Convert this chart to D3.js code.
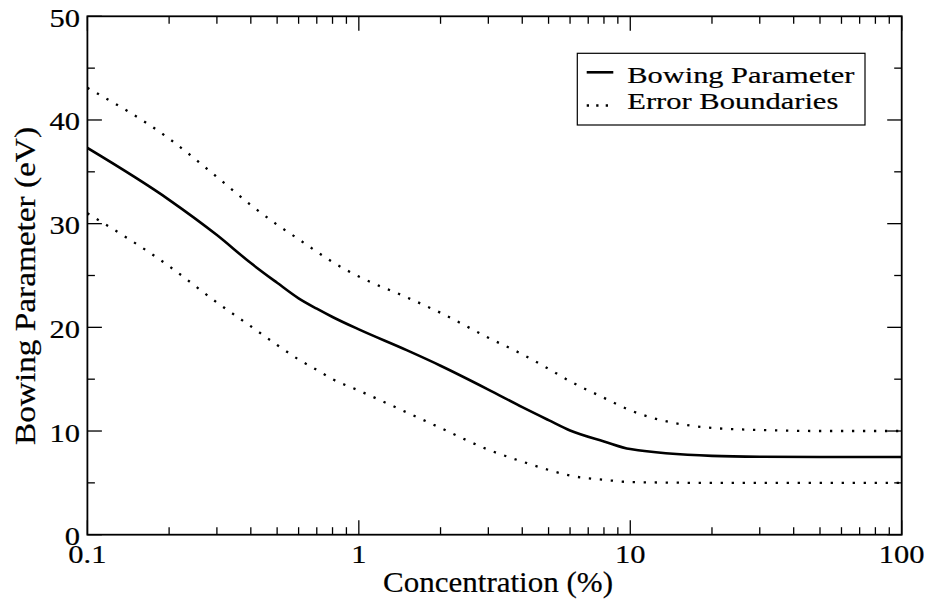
<!DOCTYPE html>
<html>
<head>
<meta charset="utf-8">
<script src="https://cdn.jsdelivr.net/npm/d3@7"></script>
<style>
  html, body { margin: 0; padding: 0; background: #fff; }
  svg { display: block; }
  text { font-family: "Liberation Serif", "Times New Roman", Tinos, serif; fill: #000; stroke: #000; stroke-width: 0.2px; }
</style>
</head>
<body>
<svg id="chart" width="932" height="603"></svg>
<script>
// ---- data ----
const concentration = [0.1, 0.2, 0.3, 0.4, 0.5, 0.6, 0.7, 0.8, 1, 1.5, 2, 3, 4, 5, 6, 8, 10, 20, 30, 50, 100];
const bowing        = [37.3, 32.3, 28.9, 26.2, 24.3, 22.8, 21.8, 21.0, 19.8, 17.8, 16.3, 14.0, 12.3, 11.05, 10.05, 9.0, 8.26, 7.6, 7.52, 7.5, 7.5];
const upperBound    = [43.1, 38.2, 34.5, 31.8, 29.9, 28.5, 27.3, 26.3, 24.9, 22.9, 21.4, 19.0, 17.4, 16.0, 14.8, 13.2, 12.0, 10.3, 10.1, 10.0, 10.0];
const lowerBound    = [31.0, 25.9, 22.4, 20.1, 18.3, 16.9, 15.9, 15.0, 13.9, 11.8, 10.3, 8.2, 7.05, 6.25, 5.7, 5.3, 5.08, 5.0, 5.0, 5.0, 5.0];
const xMajorTicks = [0.1, 1, 10, 100];
const xTickLabels = ["0.1", "1", "10", "100"];
const yMajorTicks = [0, 10, 20, 30, 40, 50];
const yTickLabels = ["0", "10", "20", "30", "40", "50"];
const yMinorTicks = [5, 15, 25, 35, 45];
const legendLabels = ["Bowing Parameter", "Error Boundaries"];
const xTitle = "Concentration (%)";
const yTitle = "Bowing Parameter (eV)";

// ---- layout ----
const L = 87.4, R = 901.7, T = 16.3, B = 534.7;
const svg = d3.select("#chart");
const x = d3.scaleLog().domain([0.1, 100]).range([L, R]);
const y = d3.scaleLinear().domain([0, 50]).range([B, T]);

const xMinorTicks = [];
[0.1, 1, 10].forEach(d => { for (let k = 2; k <= 9; k++) xMinorTicks.push(+(d * k).toPrecision(3)); });

const MAJ = 14.5, MIN = 7.5;
const tickG = svg.append("g").attr("stroke", "#000").attr("stroke-width", 1.3);
function vt(v, len) {
  tickG.append("line").attr("x1", x(v)).attr("x2", x(v)).attr("y1", B).attr("y2", B - len);
  tickG.append("line").attr("x1", x(v)).attr("x2", x(v)).attr("y1", T).attr("y2", T + len);
}
function ht(v, len) {
  tickG.append("line").attr("y1", y(v)).attr("y2", y(v)).attr("x1", L).attr("x2", L + len);
  tickG.append("line").attr("y1", y(v)).attr("y2", y(v)).attr("x1", R).attr("x2", R - len);
}
xMajorTicks.forEach(v => vt(v, MAJ));
xMinorTicks.forEach(v => vt(v, MIN));
yMajorTicks.forEach(v => ht(v, MAJ));
yMinorTicks.forEach(v => ht(v, MIN));

// ---- lines ----
const line = d3.line().x(d => x(d[0])).y(d => y(d[1])).curve(d3.curveMonotoneX);
const zip = arr => concentration.map((c, i) => [c, arr[i]]);
svg.append("clipPath").attr("id", "clip").append("rect")
  .attr("x", L).attr("y", T).attr("width", R - L).attr("height", B - T);
const plot = svg.append("g").attr("clip-path", "url(#clip)");
[upperBound, lowerBound].forEach(arr => {
  plot.append("path").attr("d", line(zip(arr))).attr("fill", "none")
    .attr("stroke", "#000").attr("stroke-width", 2.3).attr("stroke-dasharray", "2.3,8.7");
});
plot.append("path").attr("d", line(zip(bowing))).attr("fill", "none")
  .attr("stroke", "#000").attr("stroke-width", 2.6).attr("stroke-linejoin", "round");

// ---- frame ----
svg.append("rect").attr("x", L).attr("y", T).attr("width", R - L).attr("height", B - T)
  .attr("fill", "none").attr("stroke", "#000").attr("stroke-width", 1.8);

// ---- tick labels ----
const SX = 1.22;
function label(txt, px, py, anchor, size, sx) {
  svg.append("text").attr("transform", `translate(${px},${py}) scale(${sx},1)`)
    .attr("text-anchor", anchor).attr("font-size", size).text(txt);
}
yMajorTicks.forEach((v, i) => label(yTickLabels[i], 80, y(v) + 10.5, "end", 25, SX));
xMajorTicks.forEach((v, i) => label(xTickLabels[i], x(v), 563, "middle", 25, SX));

// ---- titles ----
svg.append("text").attr("x", 498).attr("y", 592).attr("text-anchor", "middle")
  .attr("font-size", 29).attr("textLength", 230).attr("lengthAdjust", "spacingAndGlyphs").text(xTitle);
svg.append("text").attr("transform", "translate(35,286) rotate(-90)").attr("text-anchor", "middle")
  .attr("font-size", 29.5).attr("textLength", 318).attr("lengthAdjust", "spacingAndGlyphs").text(yTitle);

// ---- legend ----
const lg = svg.append("g");
lg.append("rect").attr("x", 577.3).attr("y", 53.3).attr("width", 287.7).attr("height", 71.7)
  .attr("fill", "#fff").attr("stroke", "#000").attr("stroke-width", 1.2);
lg.append("line").attr("x1", 586.7).attr("x2", 613.3).attr("y1", 72.3).attr("y2", 72.3)
  .attr("stroke", "#000").attr("stroke-width", 2.6);
lg.append("line").attr("x1", 586.7).attr("x2", 613.3).attr("y1", 105.5).attr("y2", 105.5)
  .attr("stroke", "#000").attr("stroke-width", 2.3).attr("stroke-dasharray", "2.3,7.2");
lg.append("text").attr("x", 627.3).attr("y", 82.5).attr("font-size", 24)
  .attr("textLength", 227).attr("lengthAdjust", "spacingAndGlyphs").text(legendLabels[0]);
lg.append("text").attr("x", 627.3).attr("y", 109.2).attr("font-size", 24)
  .attr("textLength", 211).attr("lengthAdjust", "spacingAndGlyphs").text(legendLabels[1]);
</script>
</body>
</html>
